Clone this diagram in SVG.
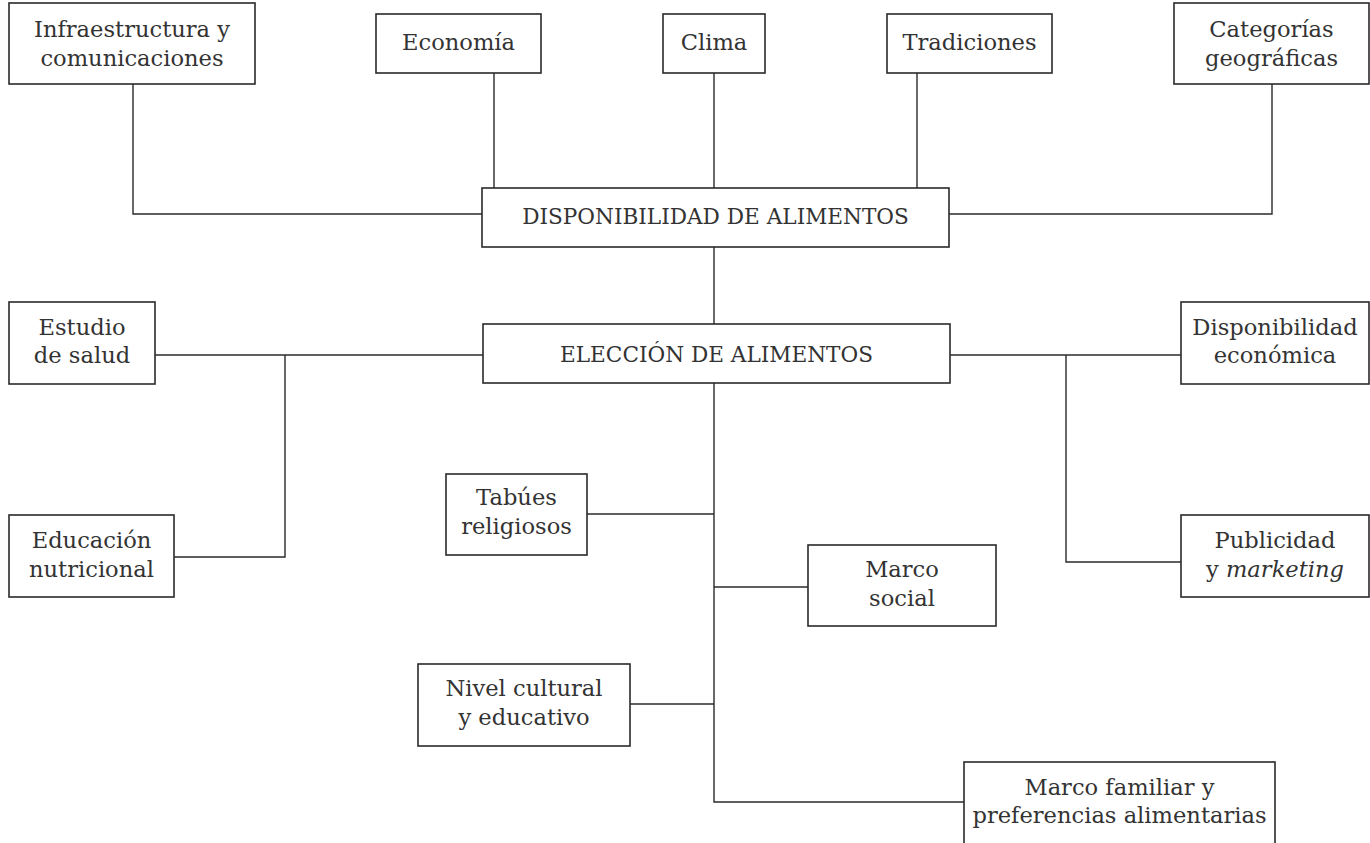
<svg xmlns="http://www.w3.org/2000/svg" width="1370" height="843" viewBox="0 0 1370 843">
  <style>
    .box { fill: #ffffff; stroke: #2a2a2a; stroke-width: 1.6; }
    .wire { fill: none; stroke: #2a2a2a; stroke-width: 1.4; }
    text { font-family: "DejaVu Serif", "Liberation Serif", serif; font-size: 22.6px; fill: #333333; text-anchor: middle; }
    .caps { font-size: 21.6px; }
    .it { font-style: italic; }
  </style>
  <rect width="1370" height="843" fill="#ffffff"/>

  <!-- connectors -->
  <g id="connectors">
    <polyline class="wire" points="133,84 133,214 482,214"/>
    <line class="wire" x1="494" y1="73" x2="494" y2="188"/>
    <line class="wire" x1="714" y1="73" x2="714" y2="188"/>
    <line class="wire" x1="917" y1="73" x2="917" y2="188"/>
    <polyline class="wire" points="1272,84 1272,214 949,214"/>
    <line class="wire" x1="714" y1="247" x2="714" y2="324"/>
    <line class="wire" x1="155" y1="355" x2="483" y2="355"/>
    <polyline class="wire" points="285,355 285,557 174,557"/>
    <line class="wire" x1="950" y1="355" x2="1181" y2="355"/>
    <polyline class="wire" points="1066,355 1066,562 1181,562"/>
    <polyline class="wire" points="714,383 714,802 964,802"/>
    <line class="wire" x1="587" y1="514" x2="714" y2="514"/>
    <line class="wire" x1="714" y1="587" x2="808" y2="587"/>
    <line class="wire" x1="630" y1="704" x2="714" y2="704"/>
  </g>

  <!-- top row -->
  <g id="infraestructura">
    <rect class="box" x="9" y="3" width="246" height="81"/>
    <text x="132" y="37">Infraestructura y</text>
    <text x="132" y="66">comunicaciones</text>
  </g>
  <g id="economia">
    <rect class="box" x="376" y="14" width="165" height="59"/>
    <text x="458.5" y="50">Economía</text>
  </g>
  <g id="clima">
    <rect class="box" x="663" y="14" width="102" height="59"/>
    <text x="714" y="50">Clima</text>
  </g>
  <g id="tradiciones">
    <rect class="box" x="887" y="14" width="165" height="59"/>
    <text x="969.5" y="50">Tradiciones</text>
  </g>
  <g id="categorias">
    <rect class="box" x="1174" y="3" width="195" height="81"/>
    <text x="1271.5" y="37">Categorías</text>
    <text x="1271.5" y="66">geográficas</text>
  </g>

  <!-- central column -->
  <g id="disponibilidad">
    <rect class="box" x="482" y="188" width="467" height="59"/>
    <text class="caps" x="715.5" y="224">DISPONIBILIDAD DE ALIMENTOS</text>
  </g>
  <g id="eleccion">
    <rect class="box" x="483" y="324" width="467" height="59"/>
    <text class="caps" x="716.5" y="362">ELECCIÓN DE ALIMENTOS</text>
  </g>

  <!-- left branch -->
  <g id="estudio-salud">
    <rect class="box" x="9" y="302" width="146" height="82"/>
    <text x="82" y="335">Estudio</text>
    <text x="82" y="363">de salud</text>
  </g>
  <g id="educacion-nutricional">
    <rect class="box" x="9" y="515" width="165" height="82"/>
    <text x="91.5" y="548">Educación</text>
    <text x="91.5" y="577">nutricional</text>
  </g>

  <!-- right branch -->
  <g id="disponibilidad-economica">
    <rect class="box" x="1181" y="302" width="188" height="82"/>
    <text x="1275" y="335">Disponibilidad</text>
    <text x="1275" y="363">económica</text>
  </g>
  <g id="publicidad">
    <rect class="box" x="1181" y="515" width="188" height="82"/>
    <text x="1275" y="548">Publicidad</text>
    <text x="1275" y="577">y <tspan class="it">marketing</tspan></text>
  </g>

  <!-- lower spine -->
  <g id="tabues">
    <rect class="box" x="446" y="474" width="141" height="81"/>
    <text x="516.5" y="505">Tabúes</text>
    <text x="516.5" y="534">religiosos</text>
  </g>
  <g id="marco-social">
    <rect class="box" x="808" y="545" width="188" height="81"/>
    <text x="902" y="577">Marco</text>
    <text x="902" y="606">social</text>
  </g>
  <g id="nivel-cultural">
    <rect class="box" x="418" y="664" width="212" height="82"/>
    <text x="524" y="696">Nivel cultural</text>
    <text x="524" y="725">y educativo</text>
  </g>
  <g id="marco-familiar">
    <rect class="box" x="964" y="762" width="311" height="100"/>
    <text x="1119.5" y="795">Marco familiar y</text>
    <text x="1119.5" y="823">preferencias alimentarias</text>
  </g>
</svg>
